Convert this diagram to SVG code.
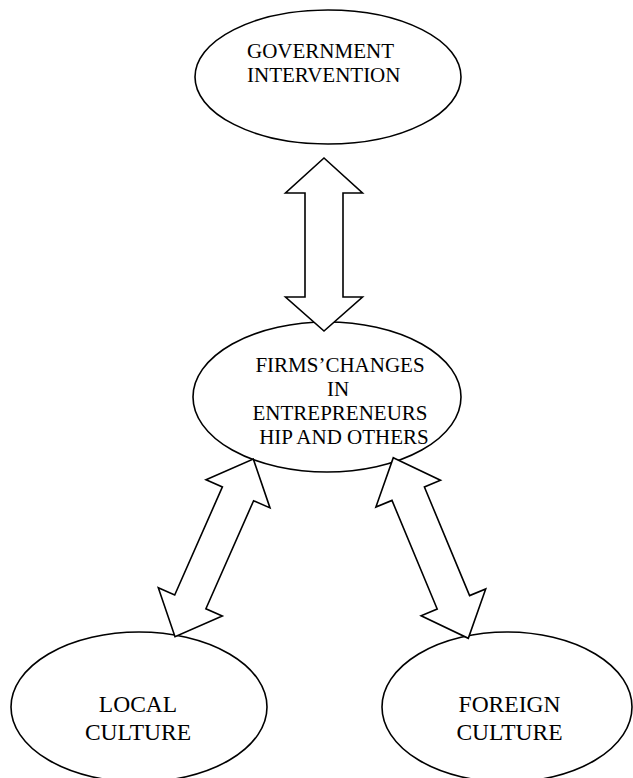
<svg xmlns="http://www.w3.org/2000/svg" width="633" height="778" viewBox="0 0 633 778">
<style>
ellipse{fill:#fff;stroke:#000;stroke-width:1.6}
.arr polygon{fill:#fff;stroke:#000;stroke-width:1.6;stroke-linejoin:miter}
text{font-family:"Liberation Serif","Times New Roman",serif;fill:#000}
.t21{font-size:21px}
.t24{font-size:23.5px;text-anchor:middle}
.mid{text-anchor:middle}
</style>
<rect width="633" height="778" fill="#fff"/>
<g id="government">
<ellipse cx="328" cy="77" rx="133" ry="67"/>
<text class="t21" x="247" y="58">GOVERNMENT</text>
<text class="t21" x="247" y="82">INTERVENTION</text>
</g>
<g id="firms">
<ellipse cx="327" cy="397" rx="134" ry="75"/>
<text class="t21 mid" x="340" y="372">FIRMS’CHANGES</text>
<text class="t21 mid" x="338" y="396">IN</text>
<text class="t21 mid" x="340" y="420">ENTREPRENEURS</text>
<text class="t21 mid" x="344" y="444">HIP AND OTHERS</text>
</g>
<g id="local">
<ellipse cx="139" cy="707" rx="128" ry="75"/>
<text class="t24" x="138" y="712">LOCAL</text>
<text class="t24" x="138" y="740">CULTURE</text>
</g>
<g id="foreign">
<ellipse cx="507" cy="707" rx="125" ry="75"/>
<text class="t24" x="509.5" y="712">FOREIGN</text>
<text class="t24" x="509.5" y="740">CULTURE</text>
</g>
<g id="connectors" class="arr">
<polygon points="324,158 362.5,193 343,193 343,297 362.5,297 324,331 285.5,297 305,297 305,193 285.5,193"/>
<polygon points="253.3,459 270,507.9 253.6,500.7 205.9,608.8 222.3,616 175,636.7 158.3,587.8 174.7,595 222.4,486.9 206,479.7"/>
<polygon points="393.3,457.7 440.5,480.3 424.4,487 469.6,595.6 485.7,588.9 468.3,638.3 421.1,615.7 437.2,609 392,500.4 375.9,507.1"/>
</g>
</svg>
